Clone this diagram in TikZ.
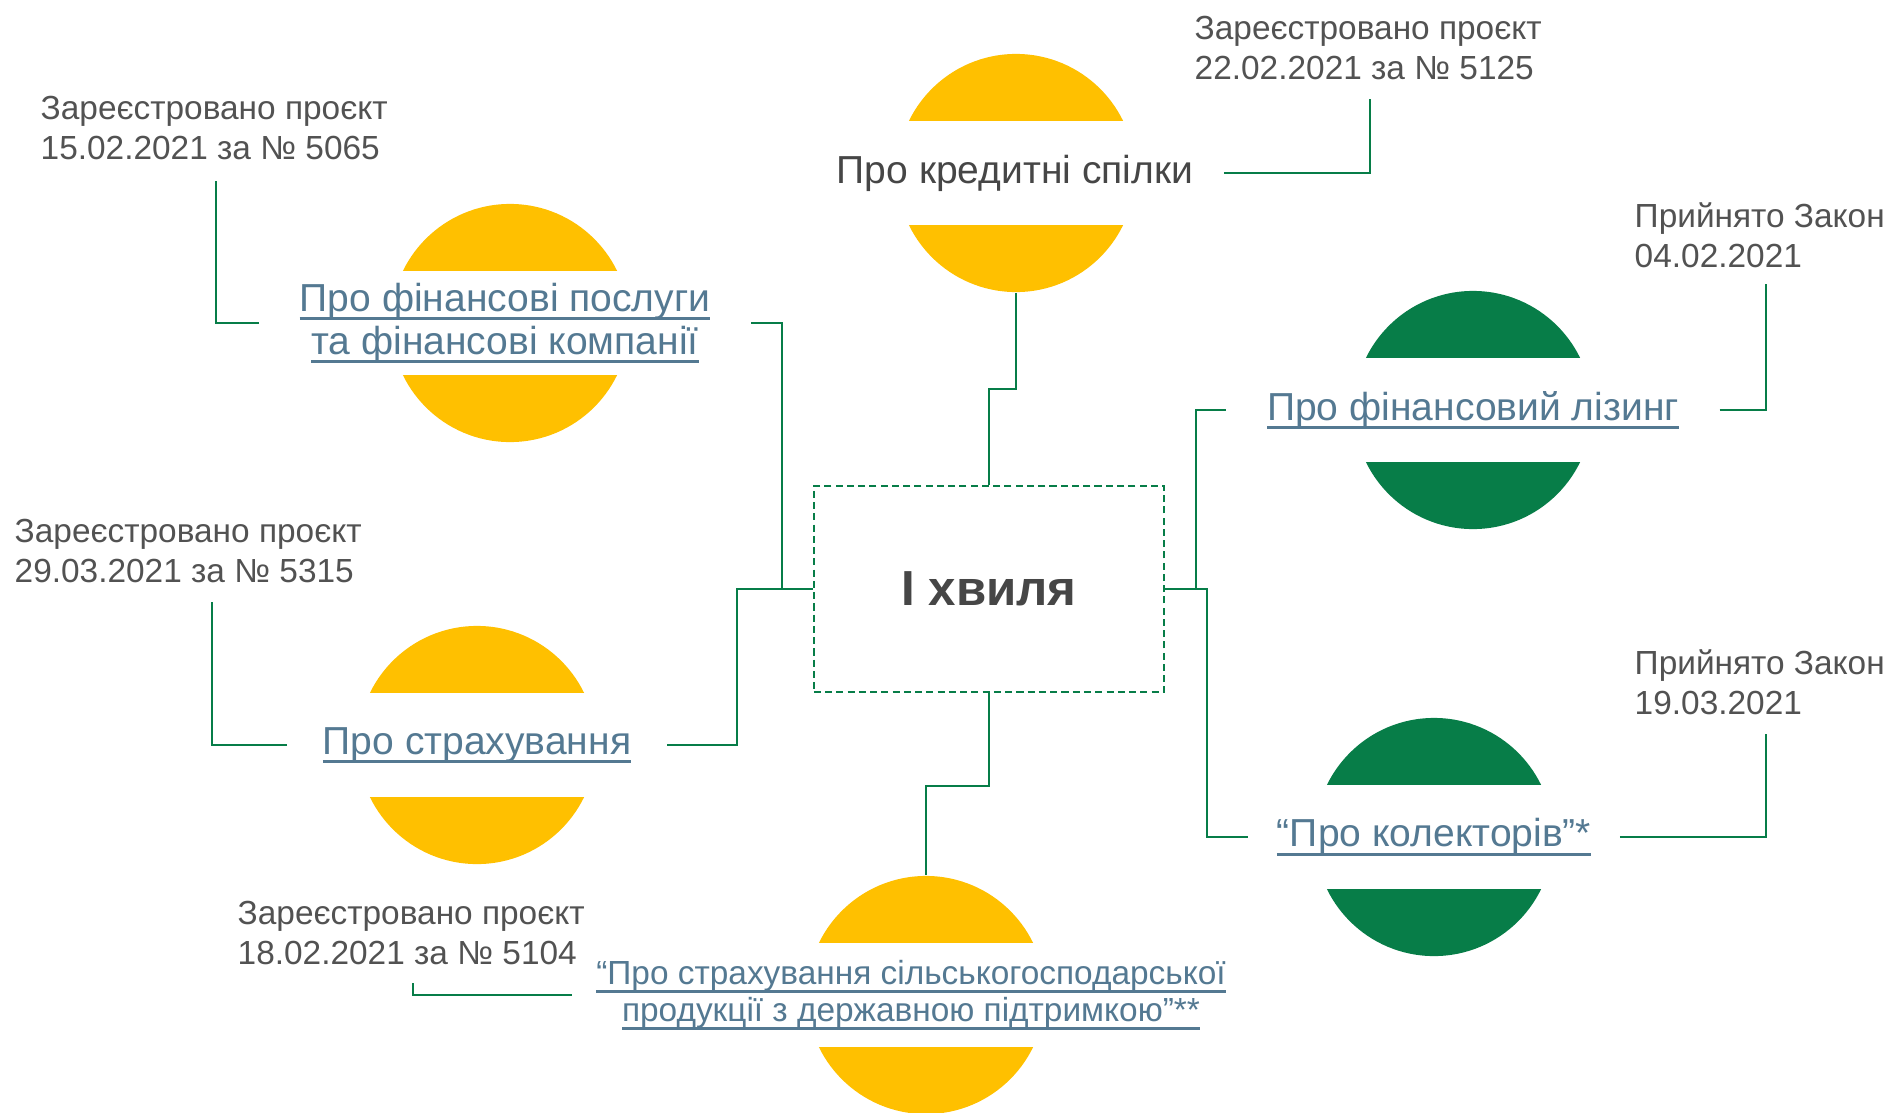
\documentclass[tikz,border=0pt]{standalone}
\usepackage{fontspec}
\setmainfont{Liberation Sans}

\newcommand{\lawul}[1]{\setbox0=\hbox{#1}\rlap{\vrule width\wd0 height -1.7pt depth 2.5pt}\box0}

\definecolor{lawyellow}{RGB}{255,192,0}
\definecolor{lawgreen}{RGB}{7,125,72}
\definecolor{linkblue}{RGB}{84,121,146}
\definecolor{notegray}{RGB}{82,82,82}
\definecolor{titlegray}{RGB}{70,70,70}

\tikzset{
  disc/.style={circle,minimum size=2.38cm,inner sep=0pt},
  yellowdisc/.style={disc,fill=lawyellow},
  greendisc/.style={disc,fill=lawgreen},
  band/.style={fill=white,minimum height=1.04cm,inner xsep=0.35cm,inner ysep=0pt,align=center},
  lawlink/.style={band,text=linkblue,font=\fontsize{11.1}{12.2}\selectfont},
  lawplain/.style={band,text=titlegray,font=\fontsize{11.1}{12.2}\selectfont},
  note/.style={anchor=north west,inner sep=0pt,align=left,text=notegray,font=\fontsize{9.5}{11.4}\selectfont},
  wave/.style={draw=lawgreen,line width=0.6pt,dash pattern=on 2pt off 1.2pt,minimum width=3.5cm,minimum height=2.06cm,text=titlegray,font=\fontsize{14}{16}\selectfont\bfseries},
  wire/.style={draw=lawgreen,line width=0.6pt}
}

\begin{document}
\begin{tikzpicture}[x=0.01cm,y=-0.01cm]
\useasboundingbox (0,0) rectangle (1889,1112);

\node[wave] (hvylia) at (989,589) {I хвиля};

\node[yellowdisc] (spilkyDisc) at (1016,173) {};
\node[yellowdisc] (poslugyDisc) at (510,323) {};
\node[yellowdisc] (strakhDisc) at (477,745) {};
\node[greendisc] (lizyngDisc) at (1473,410) {};
\node[greendisc] (kolektDisc) at (1434,837) {};
\node[yellowdisc] (silgospDisc) at (926,995) {};

\node[lawplain,inner xsep=0.3cm] (spilky) at (1015,173) {Про кредитні спілки};
\node[lawlink,inner xsep=0.4cm] (poslugy) at (505,323) {\lawul{Про фінансові послуги}\\\lawul{та фінансові компанії}};
\node[lawlink] (strakh) at (strakhDisc) {\lawul{Про страхування}};
\node[lawlink,inner xsep=0.4cm] (lizyng) at (lizyngDisc) {\lawul{Про фінансовий лізинг}};
\node[lawlink,inner xsep=0.28cm] (kolekt) at (kolektDisc) {\lawul{“Про колекторів”*}};
\node[lawlink,font=\fontsize{9.5}{10.5}\selectfont,inner xsep=0.24cm] (silgosp) at (911,995) {\lawul{“Про страхування сільськогосподарської}\\\lawul{продукції з державною підтримкою”**}};

\node[note] (n22) at (1194,15) {Зареєстровано проєкт\\22.02.2021 за № 5125};
\node[note] (n15) at (40,95) {Зареєстровано проєкт\\15.02.2021 за № 5065};
\node[note] (n29) at (14,518) {Зареєстровано проєкт\\29.03.2021 за № 5315};
\node[note] (n18) at (237,900) {Зареєстровано проєкт\\18.02.2021 за № 5104};
\node[note] (n04) at (1634,202) {Прийнято Закон\\04.02.2021};
\node[note] (n19) at (1634,649) {Прийнято Закон\\19.03.2021};

\coordinate (k22) at (1370,99);
\coordinate (k15) at (216,181);
\coordinate (k29) at (212,602);
\coordinate (k18) at (413,983);
\coordinate (k04) at (1766,284);
\coordinate (k19) at (1766,734);

\draw[wire] (spilkyDisc.south) -- ++(0,96) -| (hvylia.north);
\draw[wire] (hvylia.west) -- ++(-31,0) |- (poslugy.east);
\draw[wire] (hvylia.west) -- ++(-76,0) |- (strakh.east);
\draw[wire] (hvylia.east) -- ++(31,0) |- (lizyng.west);
\draw[wire] (hvylia.east) -- ++(42,0) |- (kolekt.west);
\draw[wire] (hvylia.south) -- ++(0,93) -| (silgospDisc.north);

\draw[wire] (spilky.east) -| (k22);
\draw[wire] (poslugy.west) -| (k15);
\draw[wire] (strakh.west) -| (k29);
\draw[wire] (silgosp.west) -| (k18);
\draw[wire] (lizyng.east) -| (k04);
\draw[wire] (kolekt.east) -| (k19);
\end{tikzpicture}
\end{document}
